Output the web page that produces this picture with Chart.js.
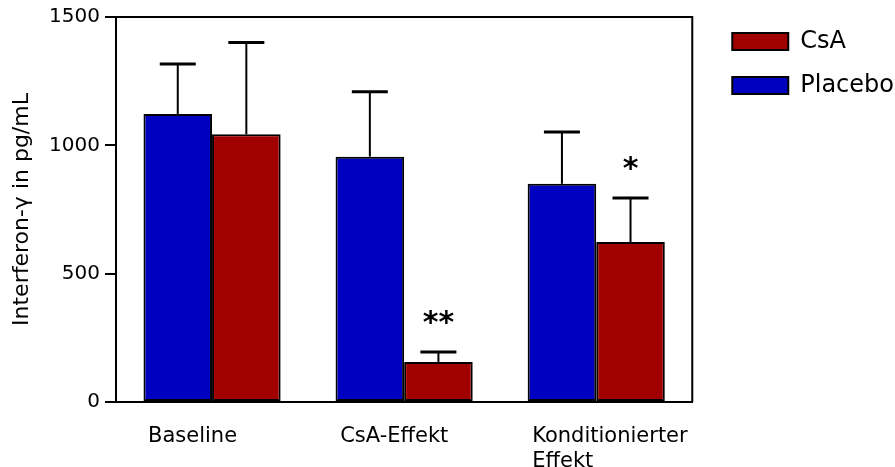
<!DOCTYPE html>
<html>
<head>
<meta charset="utf-8">
<script src="https://cdn.jsdelivr.net/npm/chart.js@4.4.0/dist/chart.umd.min.js"></script>
<style>
  html, body { margin: 0; padding: 0; background: #fff; }
  #wrap { width: 895px; height: 467px; }
</style>
</head>
<body>
<div id="wrap"><canvas id="chart"></canvas></div>
<script>
const categories = ['Baseline', 'CsA-Effekt', ['Konditionierter', 'Effekt']];
const placebo = [1122, 956, 850];
const placeboErr = [195, 253, 202];
const csa = [1043, 156, 623];
const csaErr = [358, 39, 172];
const csaStars = ['', '**', '*'];
const yTicks = [0, 500, 1000, 1500];

const FONT = 'DejaVu Sans';

// upper error whiskers + significance stars
const errorBars = {
  id: 'errorBars',
  afterDatasetsDraw(chart) {
    const ctx = chart.ctx;
    const y = chart.scales.y;
    chart.data.datasets.forEach((ds, i) => {
      const meta = chart.getDatasetMeta(i);
      meta.data.forEach((bar, j) => {
        const top = y.getPixelForValue(ds.data[j] + ds.err[j]);
        ctx.save();
        ctx.strokeStyle = '#000';
        ctx.lineWidth = 2;
        ctx.beginPath();
        ctx.moveTo(bar.x, bar.y);
        ctx.lineTo(bar.x, top);
        ctx.stroke();
        ctx.lineWidth = 3;
        ctx.beginPath();
        ctx.moveTo(bar.x - 18, top);
        ctx.lineTo(bar.x + 18, top);
        ctx.stroke();
        if (ds.stars && ds.stars[j]) {
          ctx.fillStyle = '#000';
          ctx.font = 'bold 30px ' + FONT;
          ctx.textAlign = 'center';
          ctx.textBaseline = 'alphabetic';
          ctx.fillText(ds.stars[j], bar.x, top - 20);
        }
        ctx.restore();
      });
    });
  }
};

// top and right lines of the box
const frame = {
  id: 'frame',
  afterDraw(chart) {
    const { ctx, chartArea: a } = chart;
    ctx.save();
    ctx.strokeStyle = '#000';
    ctx.lineWidth = 2;
    ctx.beginPath();
    ctx.moveTo(a.left, a.top);
    ctx.lineTo(a.right, a.top);
    ctx.lineTo(a.right, a.bottom);
    ctx.stroke();
    ctx.restore();
  }
};

// nudge the legend a bit away from the plot
const legendShift = {
  id: 'legendShift',
  afterLayout(chart) {
    chart.legend.left += 20;
    chart.legend.right += 20;
    chart.legend.top -= 7.5;
  }
};

new Chart(document.getElementById('chart'), {
  type: 'bar',
  data: {
    labels: categories,
    datasets: [
      {
        label: 'Placebo',
        data: placebo,
        err: placeboErr,
        backgroundColor: '#0000c0',
        borderColor: '#000',
        borderWidth: 2
      },
      {
        label: 'CsA',
        data: csa,
        err: csaErr,
        stars: csaStars,
        backgroundColor: '#a00000',
        borderColor: '#000',
        borderWidth: 2
      }
    ]
  },
  options: {
    responsive: true,
    maintainAspectRatio: false,
    animation: false,
    layout: { padding: { left: 0, top: 17, right: 11, bottom: 0 } },
    datasets: {
      bar: { categoryPercentage: 0.714, barPercentage: 1.0, borderSkipped: false }
    },
    plugins: {
      legend: {
        position: 'right',
        align: 'start',
        reverse: true,
        labels: {
          boxWidth: 56,
          boxHeight: 17,
          padding: 20,
          color: '#000',
          font: { family: FONT, size: 24 }
        }
      },
      tooltip: { enabled: false }
    },
    scales: {
      x: {
        afterFit(scale) { scale.height = 65; },
        grid: { display: false, drawTicks: false },
        border: { display: true, color: '#000', width: 2 },
        ticks: {
          color: '#000',
          align: 'start',
          labelOffset: -64,
          padding: 22,
          font: { family: FONT, size: 21 }
        }
      },
      y: {
        min: 0,
        max: 1500,
        afterBuildTicks(scale) {
          scale.ticks = yTicks.map(v => ({ value: v }));
        },
        afterFit(scale) { scale.width = 116; },
        grid: {
          drawOnChartArea: false,
          drawTicks: true,
          tickLength: 11,
          color: '#000',
          lineWidth: 2
        },
        border: { display: true, color: '#000', width: 2 },
        ticks: {
          color: '#000',
          padding: 5,
          callback: v => String(v),
          font: { family: FONT, size: 20 }
        },
        title: {
          display: true,
          text: 'Interferon-γ in pg/mL',
          color: '#000',
          padding: { top: 9, bottom: 10 },
          font: { family: FONT, size: 22 }
        }
      }
    }
  },
  plugins: [errorBars, frame, legendShift]
});
</script>
</body>
</html>
